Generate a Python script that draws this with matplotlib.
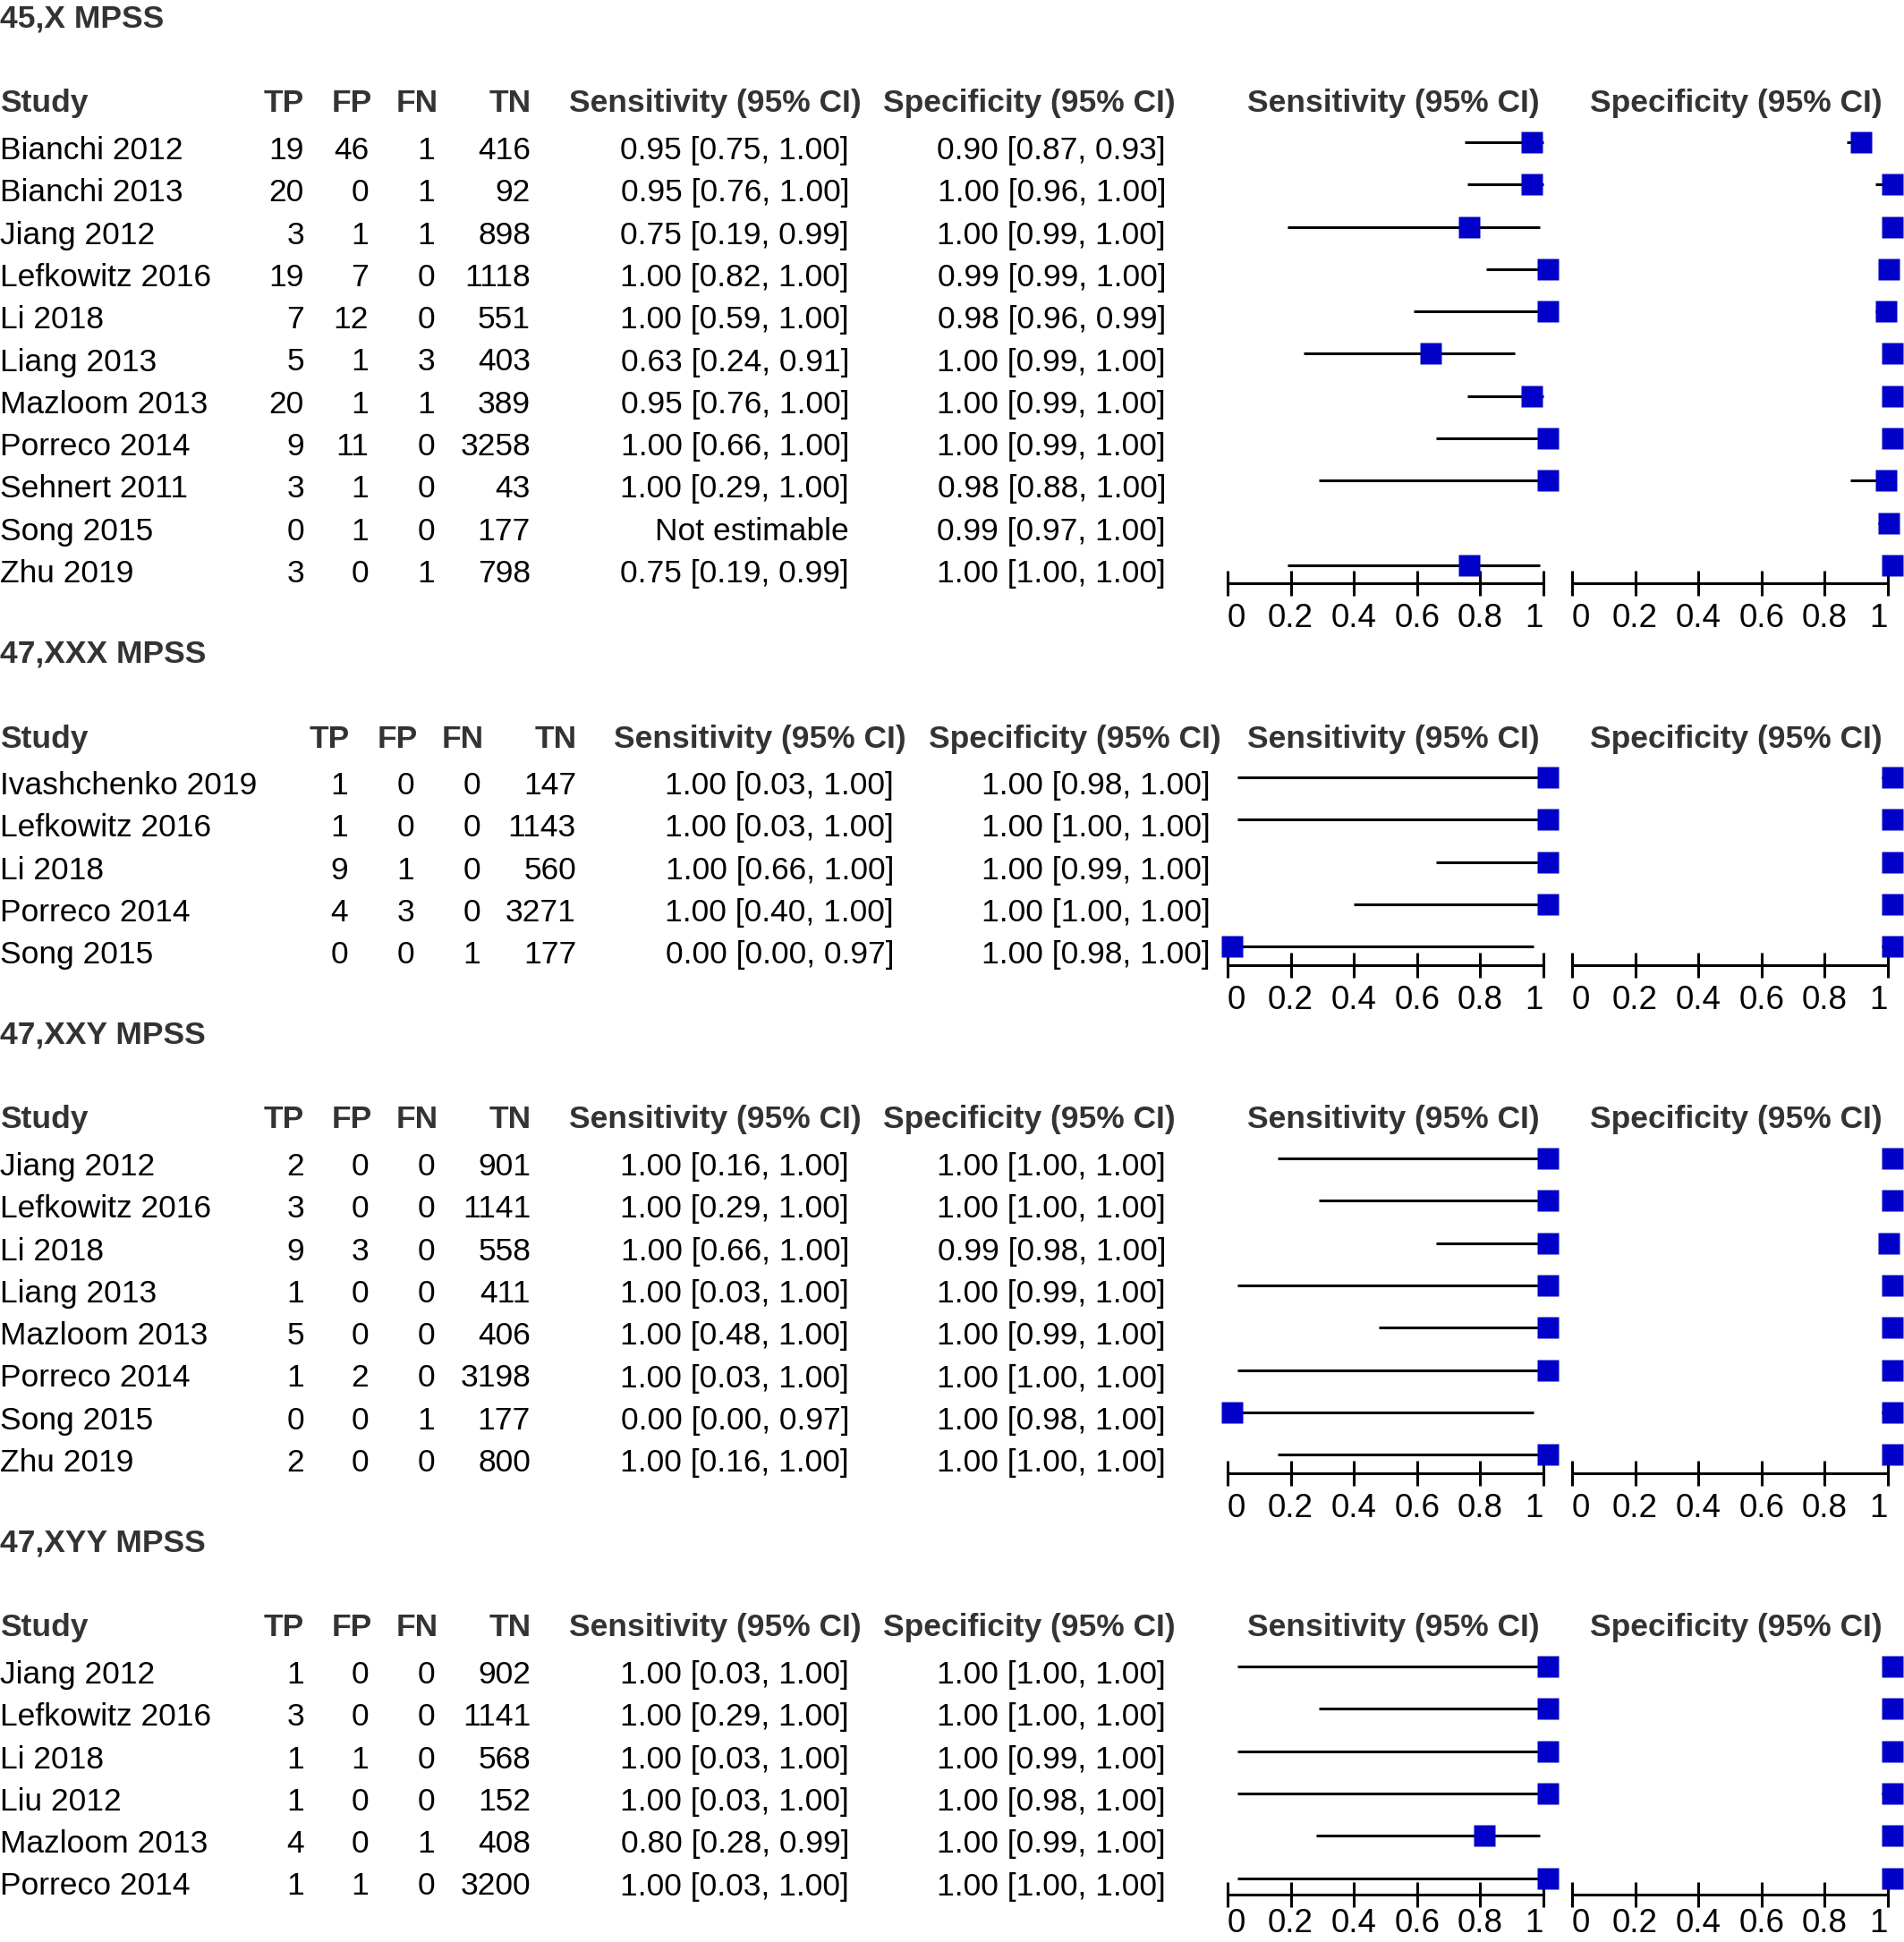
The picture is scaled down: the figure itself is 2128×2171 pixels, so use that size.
import numpy as np
import matplotlib.pyplot as plt
from matplotlib.transforms import offset_copy

plt.rcParams['font.family'] = ['Liberation Sans', 'DejaVu Sans']

W, H = 2128, 2171
STEP = 47.3
BLUE = '#0000c8'
GREY = '#333333'

# ---- 45,X MPSS
x_study = ['Bianchi 2012', 'Bianchi 2013', 'Jiang 2012', 'Lefkowitz 2016', 'Li 2018',
           'Liang 2013', 'Mazloom 2013', 'Porreco 2014', 'Sehnert 2011', 'Song 2015', 'Zhu 2019']
x_tp = [19, 20, 3, 19, 7, 5, 20, 9, 3, 0, 3]
x_fp = [46, 0, 1, 7, 12, 1, 1, 11, 1, 1, 0]
x_fn = [1, 1, 1, 0, 0, 3, 1, 0, 0, 0, 1]
x_tn = [416, 92, 898, 1118, 551, 403, 389, 3258, 43, 177, 798]
x_sens = [0.95, 0.95, 0.75, 1.00, 1.00, 0.63, 0.95, 1.00, 1.00, np.nan, 0.75]
x_sens_lo = [0.75, 0.76, 0.19, 0.82, 0.59, 0.24, 0.76, 0.66, 0.29, np.nan, 0.19]
x_sens_hi = [1.00, 1.00, 0.99, 1.00, 1.00, 0.91, 1.00, 1.00, 1.00, np.nan, 0.99]
x_spec = [0.90, 1.00, 1.00, 0.99, 0.98, 1.00, 1.00, 1.00, 0.98, 0.99, 1.00]
x_spec_lo = [0.87, 0.96, 0.99, 0.99, 0.96, 0.99, 0.99, 0.99, 0.88, 0.97, 1.00]
x_spec_hi = [0.93, 1.00, 1.00, 1.00, 0.99, 1.00, 1.00, 1.00, 1.00, 1.00, 1.00]

# ---- 47,XXX MPSS
xxx_study = ['Ivashchenko 2019', 'Lefkowitz 2016', 'Li 2018', 'Porreco 2014', 'Song 2015']
xxx_tp = [1, 1, 9, 4, 0]
xxx_fp = [0, 0, 1, 3, 0]
xxx_fn = [0, 0, 0, 0, 1]
xxx_tn = [147, 1143, 560, 3271, 177]
xxx_sens = [1.00, 1.00, 1.00, 1.00, 0.00]
xxx_sens_lo = [0.03, 0.03, 0.66, 0.40, 0.00]
xxx_sens_hi = [1.00, 1.00, 1.00, 1.00, 0.97]
xxx_spec = [1.00, 1.00, 1.00, 1.00, 1.00]
xxx_spec_lo = [0.98, 1.00, 0.99, 1.00, 0.98]
xxx_spec_hi = [1.00, 1.00, 1.00, 1.00, 1.00]

# ---- 47,XXY MPSS
xxy_study = ['Jiang 2012', 'Lefkowitz 2016', 'Li 2018', 'Liang 2013', 'Mazloom 2013',
             'Porreco 2014', 'Song 2015', 'Zhu 2019']
xxy_tp = [2, 3, 9, 1, 5, 1, 0, 2]
xxy_fp = [0, 0, 3, 0, 0, 2, 0, 0]
xxy_fn = [0, 0, 0, 0, 0, 0, 1, 0]
xxy_tn = [901, 1141, 558, 411, 406, 3198, 177, 800]
xxy_sens = [1.00, 1.00, 1.00, 1.00, 1.00, 1.00, 0.00, 1.00]
xxy_sens_lo = [0.16, 0.29, 0.66, 0.03, 0.48, 0.03, 0.00, 0.16]
xxy_sens_hi = [1.00, 1.00, 1.00, 1.00, 1.00, 1.00, 0.97, 1.00]
xxy_spec = [1.00, 1.00, 0.99, 1.00, 1.00, 1.00, 1.00, 1.00]
xxy_spec_lo = [1.00, 1.00, 0.98, 0.99, 0.99, 1.00, 0.98, 1.00]
xxy_spec_hi = [1.00, 1.00, 1.00, 1.00, 1.00, 1.00, 1.00, 1.00]

# ---- 47,XYY MPSS
xyy_study = ['Jiang 2012', 'Lefkowitz 2016', 'Li 2018', 'Liu 2012', 'Mazloom 2013', 'Porreco 2014']
xyy_tp = [1, 3, 1, 1, 4, 1]
xyy_fp = [0, 0, 1, 0, 0, 1]
xyy_fn = [0, 0, 0, 0, 1, 0]
xyy_tn = [902, 1141, 568, 152, 408, 3200]
xyy_sens = [1.00, 1.00, 1.00, 1.00, 0.80, 1.00]
xyy_sens_lo = [0.03, 0.29, 0.03, 0.03, 0.28, 0.03]
xyy_sens_hi = [1.00, 1.00, 1.00, 1.00, 0.99, 1.00]
xyy_spec = [1.00, 1.00, 1.00, 1.00, 1.00, 1.00]
xyy_spec_lo = [1.00, 1.00, 0.99, 0.98, 0.99, 1.00]
xyy_spec_hi = [1.00, 1.00, 1.00, 1.00, 1.00, 1.00]

tick_vals = [0, 0.2, 0.4, 0.6, 0.8, 1]
tick_text = ['0', '0.2', '0.4', '0.6', '0.8', '1']

# column layout (pixels): right edges of TP, FP, FN, TN, sens, spec values / headers
cols_narrow = dict(val=[340, 412, 486, 593, 949, 1303], head=[340, 416, 490, 594, 963, 1314])
cols_wide = dict(val=[389, 463, 537, 644, 999, 1353], head=[391, 467, 541, 645, 1013, 1365])

panels = [
    dict(title='45,X MPSS', title_y=19, head_y=113, row0=166, axis_y=652, cols=cols_narrow, pad=6,
         study=x_study, tp=x_tp, fp=x_fp, fn=x_fn, tn=x_tn,
         sens=x_sens, sens_lo=x_sens_lo, sens_hi=x_sens_hi,
         spec=x_spec, spec_lo=x_spec_lo, spec_hi=x_spec_hi),
    dict(title='47,XXX MPSS', title_y=728, head_y=824, row0=876, axis_y=1079, cols=cols_wide, pad=6,
         study=xxx_study, tp=xxx_tp, fp=xxx_fp, fn=xxx_fn, tn=xxx_tn,
         sens=xxx_sens, sens_lo=xxx_sens_lo, sens_hi=xxx_sens_hi,
         spec=xxx_spec, spec_lo=xxx_spec_lo, spec_hi=xxx_spec_hi),
    dict(title='47,XXY MPSS', title_y=1154, head_y=1249, row0=1302, axis_y=1647, cols=cols_narrow, pad=6,
         study=xxy_study, tp=xxy_tp, fp=xxy_fp, fn=xxy_fn, tn=xxy_tn,
         sens=xxy_sens, sens_lo=xxy_sens_lo, sens_hi=xxy_sens_hi,
         spec=xxy_spec, spec_lo=xxy_spec_lo, spec_hi=xxy_spec_hi),
    # last axis sits at the bottom edge: tighter pad keeps its labels inside the canvas
    dict(title='47,XYY MPSS', title_y=1722, head_y=1817, row0=1870, axis_y=2118, cols=cols_narrow, pad=1,
         study=xyy_study, tp=xyy_tp, fp=xyy_fp, fn=xyy_fn, tn=xyy_tn,
         sens=xyy_sens, sens_lo=xyy_sens_lo, sens_hi=xyy_sens_hi,
         spec=xyy_spec, spec_lo=xyy_spec_lo, spec_hi=xyy_spec_hi),
]

FS = 25.5
HALF_CAP = 12


def fx(x):
    return x / W


def fy(y):
    return 1 - y / H


def ci_text(v, lo, hi):
    if np.isnan(v):
        return 'Not estimable'
    return f'{v:.2f} [{lo:.2f}, {hi:.2f}]'


fig = plt.figure(figsize=(W / 100, H / 100), dpi=100)


def forest(p, x0, x1, vals, lo, hi):
    top = p['row0'] - 7 - STEP / 2
    bottom = p['axis_y']
    ax = fig.add_axes([fx(x0), fy(bottom), (x1 - x0) / W, (bottom - top) / H])
    ax.patch.set_visible(False)
    idx = np.arange(len(vals))
    ax.hlines(idx, lo, hi, color='black', lw=2.2, clip_on=False, zorder=2)
    shifted = offset_copy(ax.transData, fig=fig, x=5, y=0, units='dots')
    ax.plot(vals, idx, 's', ms=17, color=BLUE, mec='none', transform=shifted,
            clip_on=False, zorder=3)
    ax.set_xlim(0, 1)
    ax.set_ylim((bottom - (p['row0'] - 7)) / STEP, -0.5)
    for s in ['top', 'left', 'right']:
        ax.spines[s].set_visible(False)
    ax.spines['bottom'].set_linewidth(2.2)
    ax.set_yticks([])
    ax.set_xticks(tick_vals)
    labels = ax.set_xticklabels(tick_text)
    labels[0].set_horizontalalignment('left')
    labels[-1].set_horizontalalignment('right')
    ax.tick_params(axis='x', direction='inout', length=20, width=2.2, pad=p['pad'],
                   labelsize=26.5, colors='black')
    return ax


for p in panels:
    fig.text(fx(0), fy(p['title_y'] + HALF_CAP), p['title'], fontsize=FS,
             fontweight='bold', color=GREY, va='baseline', ha='left')
    hy = fy(p['head_y'] + HALF_CAP)
    fig.text(fx(0), hy, 'Study', fontsize=FS, fontweight='bold', color=GREY, va='baseline')
    heads = ['TP', 'FP', 'FN', 'TN', 'Sensitivity (95% CI)', 'Specificity (95% CI)']
    for h, xh in zip(heads, p['cols']['head']):
        fig.text(fx(xh), hy, h, fontsize=FS, fontweight='bold', color=GREY,
                 va='baseline', ha='right')
    fig.text(fx(1557), hy, 'Sensitivity (95% CI)', fontsize=FS, fontweight='bold',
             color=GREY, va='baseline', ha='center')
    fig.text(fx(1940), hy, 'Specificity (95% CI)', fontsize=FS, fontweight='bold',
             color=GREY, va='baseline', ha='center')

    for i, name in enumerate(p['study']):
        ry = fy(p['row0'] + i * STEP + HALF_CAP)
        fig.text(fx(0), ry, name, fontsize=FS, color='black', va='baseline')
        cells = [str(p['tp'][i]), str(p['fp'][i]), str(p['fn'][i]), str(p['tn'][i]),
                 ci_text(p['sens'][i], p['sens_lo'][i], p['sens_hi'][i]),
                 ci_text(p['spec'][i], p['spec_lo'][i], p['spec_hi'][i])]
        for c, xc in zip(cells, p['cols']['val']):
            fig.text(fx(xc), ry, c, fontsize=FS, color='black', va='baseline', ha='right')

    forest(p, 1372, 1725, p['sens'], p['sens_lo'], p['sens_hi'])
    forest(p, 1757, 2110, p['spec'], p['spec_lo'], p['spec_hi'])

fig.savefig('out.png', dpi=100, facecolor='white')
